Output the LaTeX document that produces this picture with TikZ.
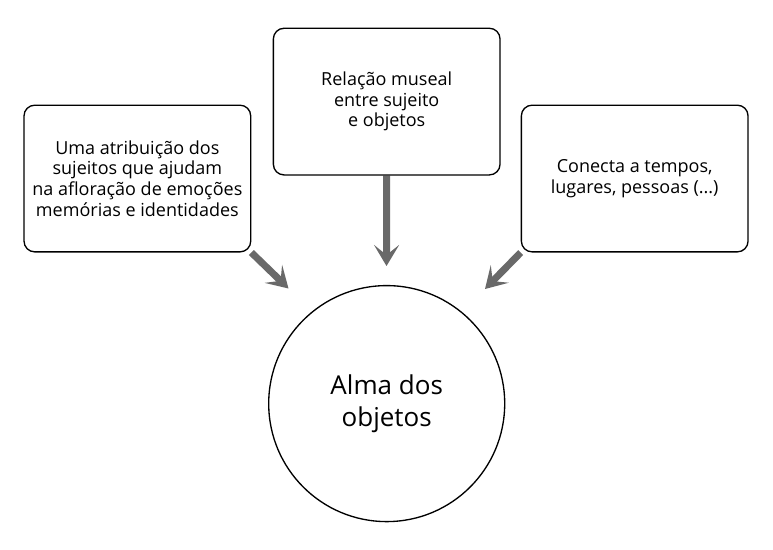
\documentclass[tikz,border=0pt]{standalone}
\usepackage{fontspec}
\setmainfont{Open Sans}
\usetikzlibrary{arrows.meta, positioning, backgrounds}
\definecolor{setacinza}{RGB}{105,105,105}
\tikzstyle{caixa} = [rectangle, draw = black, line width = 1pt, rounded corners = 8pt, fill = white, minimum width = 170pt, minimum height = 110pt, align = center, font = \fontsize{13.5}{15.5}\selectfont]
\tikzstyle{alma} = [circle, draw = black, line width = 1pt, fill = white, minimum size = 177pt, align = center, font = \fontsize{19.5}{23.8}\selectfont]
\tikzstyle{seta} = [-{Stealth[length = 15.75pt, width = 18.75pt, inset = 7.5pt]}, line width = 5.25pt, draw = setacinza]

\begin{document}
\begin{tikzpicture}[x = 0.75pt, y = -0.75pt]
        \useasboundingbox (0,0) rectangle (773,549);
        % draw boxes
        \node[caixa] (meio) at (386.7,101.6) {Relação museal\\entre sujeito\\e objetos};
        \node[caixa] (esq) [left = 16pt of meio, yshift = -57.7pt] {Uma atribuição dos\\sujeitos que ajudam\\na afloração de emoções\\memórias e identidades};
        \node[caixa] (dir) [right = 15pt of meio, yshift = -57.7pt] {Conecta a tempos,\\lugares, pessoas (...)};
        % draw circle
        \node[alma] (centro) [below = 82pt of meio] {Alma dos\\objetos};
        % arrow tips
        \coordinate (pontaM) at (386.5,266);
        \coordinate (pontaE) at (288.5,288.5);
        \coordinate (pontaD) at (485,289);

        % draw arrows behind the boxes
        \begin{pgfonlayer}{background}
            \fill[white] (0,0) rectangle (773,549);
            \draw[seta] (meio.south) -- (pontaM);
            \draw[seta] (esq.south east) -- (pontaE);
            \draw[seta] (dir.south west) -- (pontaD);
        \end{pgfonlayer}
    \end{tikzpicture}
\end{document}
